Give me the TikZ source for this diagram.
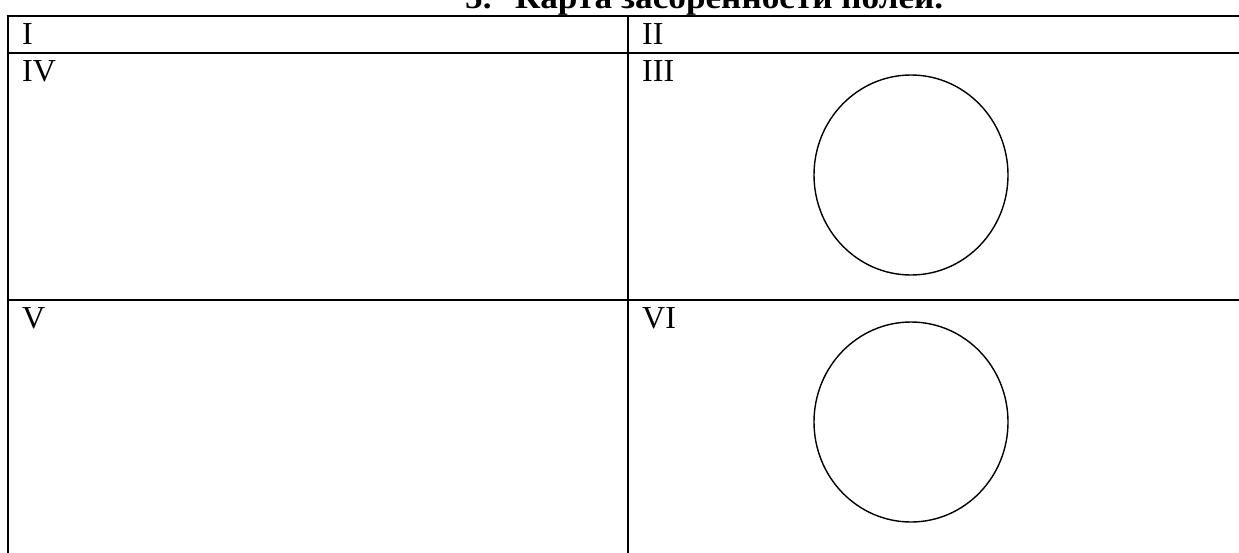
\documentclass[tikz,border=0pt]{standalone}
\usepackage{fontspec}
\usepackage{graphicx}
\setmainfont{Liberation Serif}
\begin{document}
\begin{tikzpicture}[x=1pt,y=-1pt,
  grid/.style={line width=2pt,black},
  plot/.style={line width=1.4pt,black},
  lab/.style={anchor=base west,inner sep=0pt,font=\fontsize{32}{38}\selectfont},
  ttl/.style={anchor=base west,inner sep=0pt,font=\fontsize{32}{38}\selectfont\bfseries}]
\useasboundingbox (0,0) rectangle (1239,552);
\clip (0,0) rectangle (1239,552);
\fill[white] (0,0) rectangle (1239,552);
% title (cut off at top)
\node[ttl] (num) at (465,8) {\scalebox{1.1}[1]{5.}};
\node[ttl] (title) at (515,8) {\scalebox{1.1}[1]{Карта засоренности полей.}};
% table lines
\draw[grid] (7.5,16) -- (7.5,560);
\draw[grid] (627.5,16) -- (627.5,560);
\draw[grid] (6.5,16) -- (1245,16);
\draw[grid] (6.5,53) -- (1245,53);
\draw[grid] (6.5,300) -- (1245,300);
% labels
\node[lab] (c1) at (22,44) {I};
\node[lab] (c2) at (642,44) {II};
\node[lab] (c4) at (22,81) {IV};
\node[lab] (c3) at (642,81) {III};
\node[lab] (c5) at (22,328) {V};
\node[lab] (c6) at (642,328) {VI};
% circles
\draw[plot] (911,175) ellipse [x radius=97, y radius=100];
\draw[plot] (911,422) ellipse [x radius=97, y radius=100];
\end{tikzpicture}
\end{document}
